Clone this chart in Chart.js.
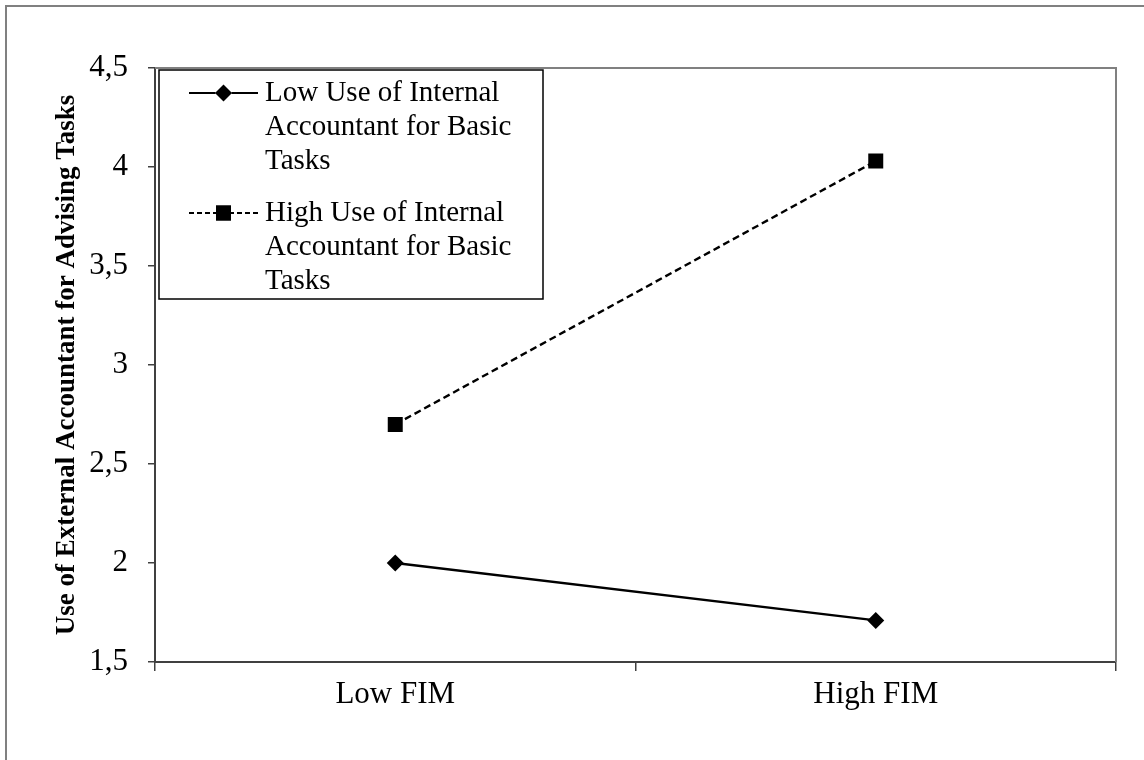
<!DOCTYPE html>
<html>
<head>
<meta charset="utf-8">
<script src="https://cdn.jsdelivr.net/npm/chart.js@4"></script>
<style>
  html, body { margin: 0; padding: 0; background: #ffffff; }
  #wrap { width: 1144px; height: 760px; position: relative; }
</style>
</head>
<body>
<div id="wrap"><canvas id="c" width="1144" height="760"></canvas></div>
<script>
// ---- data ----
const categories = ["Low FIM", "High FIM"];
const lowUseValues = [2.0, 1.71];
const highUseValues = [2.70, 4.03];
const lowUseLabel = ["Low Use of Internal", "Accountant for Basic", "Tasks"];
const highUseLabel = ["High Use of Internal", "Accountant for Basic", "Tasks"];
const yTicks = [1.5, 2, 2.5, 3, 3.5, 4, 4.5];
const yTitle = "Use of External Accountant for Advising Tasks";

const SERIF = "'Liberation Serif', 'Times New Roman', serif";

const frame = {
  id: 'frame',
  beforeDraw(chart) {
    const ctx = chart.ctx;
    ctx.save();
    ctx.fillStyle = '#ffffff';
    ctx.fillRect(0, 0, chart.width, chart.height);
    ctx.strokeStyle = '#808080';
    ctx.lineWidth = 2;
    ctx.strokeRect(6, 6, chart.width + 20, chart.height + 20);
    ctx.restore();
  },
  beforeDatasetsDraw(chart) {
    const {ctx, chartArea: a} = chart;
    ctx.save();
    ctx.strokeStyle = '#808080';
    ctx.lineWidth = 2;
    ctx.beginPath();
    ctx.moveTo(a.left, a.top);
    ctx.lineTo(a.right, a.top);
    ctx.lineTo(a.right, a.bottom);
    ctx.stroke();
    ctx.restore();
  }
};

const boxLegend = {
  id: 'boxLegend',
  afterDatasetsDraw(chart) {
    const {ctx, chartArea: a} = chart;
    const bx = a.left + 4, by = a.top + 2, bw = 384, bh = 229;
    ctx.save();
    ctx.fillStyle = '#ffffff';
    ctx.fillRect(bx, by, bw, bh);
    ctx.strokeStyle = '#000000';
    ctx.lineWidth = 1.5;
    ctx.strokeRect(bx, by, bw, bh);
    const lineH = 34;
    const items = [
      {ds: chart.data.datasets[0], lines: lowUseLabel, y: by + 23, dash: []},
      {ds: chart.data.datasets[1], lines: highUseLabel, y: by + 143, dash: [5, 3]}
    ];
    items.forEach(it => {
      const ds = it.ds;
      const x0 = bx + 30, x1 = bx + 99, xm = (x0 + x1) / 2;
      ctx.strokeStyle = '#000';
      ctx.lineWidth = 2.2;
      ctx.setLineDash(it.dash);
      ctx.beginPath();
      ctx.moveTo(x0, it.y);
      ctx.lineTo(x1, it.y);
      ctx.stroke();
      ctx.setLineDash([]);
      Chart.helpers.drawPoint(ctx, {pointStyle: ds.pointStyle, radius: ds.pointRadius, borderWidth: 0, rotation: 0}, xm, it.y);
      ctx.fillStyle = '#000';
      ctx.fill();
      ctx.font = '29px ' + SERIF;
      ctx.textBaseline = 'middle';
      ctx.textAlign = 'left';
      it.lines.forEach((t, i) => ctx.fillText(t, bx + 106, it.y + i * lineH));
    });
    ctx.restore();
  }
};

new Chart(document.getElementById('c'), {
  type: 'line',
  data: {
    labels: categories,
    datasets: [
      {
        label: lowUseLabel.join(' '),
        data: lowUseValues,
        borderColor: '#000',
        backgroundColor: '#000',
        borderWidth: 2.4,
        pointStyle: 'rectRot',
        pointRadius: 8.5,
        pointBackgroundColor: '#000',
        pointBorderWidth: 0,
        tension: 0
      },
      {
        label: highUseLabel.join(' '),
        data: highUseValues,
        borderColor: '#000',
        backgroundColor: '#000',
        borderWidth: 2.4,
        borderDash: [7, 4],
        pointStyle: 'rect',
        pointRadius: 10.6,
        pointBackgroundColor: '#000',
        pointBorderWidth: 0,
        tension: 0
      }
    ]
  },
  options: {
    responsive: false,
    animation: false,
    events: [],
    layout: { padding: { left: 0, top: 68, right: 28, bottom: 0 } },
    plugins: { legend: { display: false }, tooltip: { enabled: false } },
    scales: {
      x: {
        type: 'category',
        offset: true,
        afterFit(s) { s.height = 98; },
        grid: { display: true, drawOnChartArea: false, drawTicks: true, tickLength: 9, offset: true, color: '#404040', lineWidth: 1.5 },
        border: { display: true, color: '#404040', width: 2 },
        ticks: { color: '#000', font: { family: SERIF, size: 31 }, padding: 5, maxRotation: 0 }
      },
      y: {
        min: 1.5,
        max: 4.5,
        afterFit(s) { s.width = 155; },
        afterBuildTicks(s) { s.ticks = yTicks.map(v => ({ value: v })); },
        grid: { display: true, drawOnChartArea: false, drawTicks: true, tickLength: 7, color: '#404040', lineWidth: 1.5 },
        border: { display: true, color: '#404040', width: 2 },
        ticks: {
          color: '#000',
          font: { family: SERIF, size: 31 },
          padding: 20,
          callback: v => String(v).replace('.', ',')
        },
        title: {
          display: true,
          text: yTitle,
          color: '#000',
          font: { family: SERIF, size: 27, weight: 'bold' },
          padding: { top: 51, bottom: 0 }
        }
      }
    }
  },
  plugins: [frame, boxLegend]
});
</script>
</body>
</html>
